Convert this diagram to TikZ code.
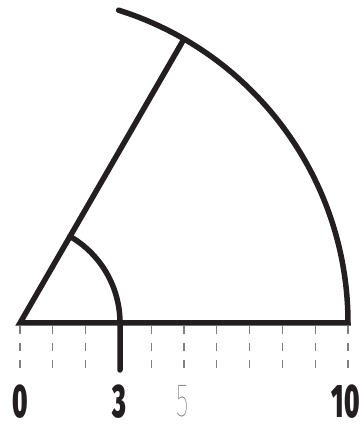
\documentclass[tikz,border=0pt]{standalone}
\usepackage{fontspec}
\setmainfont{Liberation Sans}
\newfontfamily\thinf{Fira Sans Thin}
\newfontfamily\heavyf{Fira Sans Black}
\definecolor{ink}{HTML}{231F20}
\definecolor{tickgray}{HTML}{808080}
\definecolor{lightgray5}{HTML}{777777}
\begin{document}
\begin{tikzpicture}[x=1pt,y=1pt,
  heavy/.style={draw=ink,line width=5.5pt,line join=miter},
  tickline/.style={draw=tickgray,line width=1.3pt,dash pattern=on 8pt off 9pt},
  boldnum/.style={inner sep=0pt,text=ink,font=\fontsize{47}{47}\heavyf},
  thinnum/.style={inner sep=0pt,text=lightgray5,font=\fontsize{47}{47}\thinf}]
\useasboundingbox (0,0) rectangle (364,424);
\coordinate (C) at (20,101);
\coordinate (R) at (348,101);
\coordinate (P) at (184,385);
\coordinate (S) at (70,187.6);
\coordinate (B) at (120,101);
\coordinate (Bend) at (120,54);
% ticks
\foreach \i in {0,...,10}{
  \draw[tickline] ({20+32.8*\i},98) -- ({20+32.8*\i},53);
}
% main sector
\draw[heavy,line cap=round] (P) -- (C) -- (R) arc[start angle=0,end angle=72.5,radius=328];
% small angle arc
\draw[heavy,line cap=round] (S) arc[start angle=60,end angle=0,radius=100] -- (Bend);
% labels
\node[boldnum] (l0) at (20,22.5) {\scalebox{0.55}[1]{0}};
\node[boldnum] (l3) at (119,22.5) {\scalebox{0.55}[1]{3}};
\node[thinnum] (l5) at (183,22.5) {\scalebox{0.55}[1]{5}};
\node[boldnum] (l10) at (346,22.5) {\scalebox{0.55}[1]{10}};
\end{tikzpicture}
\end{document}
